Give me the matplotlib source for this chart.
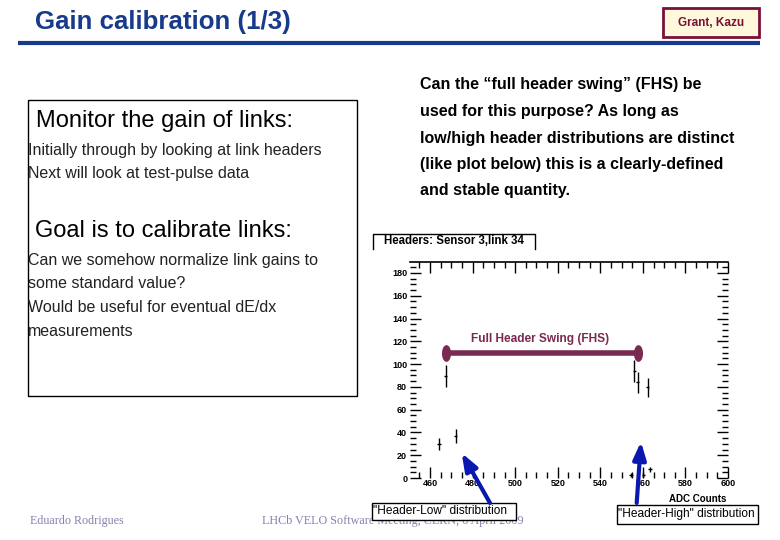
import numpy as np
import matplotlib
matplotlib.use('Agg')
import matplotlib.pyplot as plt
import matplotlib.patches as mpatches
from matplotlib.path import Path
from matplotlib.transforms import Affine2D

# histogram points (bin centre, entries, error)
adc = [464.2, 467.4, 472.1, 554.4, 556.0, 557.6, 560.2, 562.3, 563.4]
counts = [29.7, 89.7, 36.6, 2.6, 94.2, 83.9, 2.8, 79.5, 7.7]
errors = [5.1, 9.5, 6.1, 1.5, 9.6, 9.5, 2.8, 8.3, 2.2]

fhs_low = 467.4
fhs_high = 557.8
fhs_level = 110

low_tip = (474.9, 21.9)
high_tip = (559.1, 31.9)

left_lines_1 = ['Initially through by looking at link headers',
                'Next will look at test-pulse data']
left_lines_2 = ['Can we somehow normalize link gains to',
                'some standard value?',
                'Would be useful for eventual dE/dx',
                'measurements']
right_lines = ['Can the \u201cfull header swing\u201d (FHS) be',
               'used for this purpose? As long as',
               'low/high header distributions are distinct',
               '(like plot below) this is a clearly-defined',
               'and stable quantity.']

plt.rcParams['font.family'] = ['Liberation Sans', 'DejaVu Sans']
navy = '#173a8a'
maroon = '#7a2a50'
blue = '#0a18b0'
foot = '#8482ae'

fig = plt.figure(figsize=(7.8, 5.4), dpi=100)
bg = fig.add_axes([0, 0, 1, 1])
bg.set_xlim(0, 780)
bg.set_ylim(540, 0)
bg.axis('off')

# slide header
bg.text(35, 22, 'Gain calibration (1/3)', color=navy, fontsize=18.6, fontweight='bold', va='center')
bg.plot([18, 760], [43, 43], color=navy, lw=3, solid_capstyle='butt')
bg.add_patch(mpatches.Rectangle((663, 8), 96, 29, facecolor='#fff8dc', edgecolor='#7a1036', lw=2))
bg.text(711, 22.5, 'Grant, Kazu', color='#7a1036', fontsize=8.5, fontweight='bold', ha='center', va='center')

# left box
bg.add_patch(mpatches.Rectangle((28, 100), 329, 296, facecolor='none', edgecolor='black', lw=1))
bg.text(36, 121, 'Monitor the gain of links:', fontsize=17, va='center')
for i, s in enumerate(left_lines_1):
    bg.text(28, 150 + i * 23.5, s, fontsize=11.5, color='#222222', va='center')
bg.text(35, 231, 'Goal is to calibrate links:', fontsize=17, va='center')
for i, s in enumerate(left_lines_2):
    bg.text(28, 260 + i * 24, s, fontsize=11.5, color='#222222', va='center')

# right text
for i, s in enumerate(right_lines):
    bg.text(420, 85 + i * 26.5, s, fontsize=11.5, fontweight='bold', va='center')

# footer
bg.text(30, 521, 'Eduardo Rodrigues', family='Liberation Serif', fontsize=8.7, color=foot, va='center')
bg.text(262, 521, 'LHCb VELO Software Meeting, CERN, 6 April 2009', family='Liberation Serif',
        fontsize=8.7, color=foot, va='center')

# histogram title box
bg.plot([372.7, 372.7, 535, 535], [249, 234, 234, 249], color='black', lw=1)
bg.text(454, 241.5, 'Headers: Sensor 3,link 34', fontsize=8.3, fontweight='bold', ha='center', va='center')

# labels of the distributions
bg.add_patch(mpatches.Rectangle((371.7, 503), 144, 17, facecolor='white', edgecolor='black', lw=1, zorder=5))
bg.text(373, 511.5, '"Header-Low" distribution', fontsize=8.6, va='center', zorder=6)
bg.add_patch(mpatches.Rectangle((617, 505), 141, 19, facecolor='white', edgecolor='black', lw=1, zorder=5))
bg.text(618.5, 514.5, '"Header-High" distribution', fontsize=8.6, va='center', zorder=6)

ax = fig.add_axes([410 / 780, 62 / 540, 318 / 780, 216 / 540])
ax.set_facecolor('none')
ax.errorbar(adc, counts, yerr=errors, xerr=0.8, fmt='none', ecolor='black', elinewidth=1)
ax.set_xlim(450.6, 600)
ax.set_ylim(0, 189.6)

ax.plot([fhs_low, fhs_high], [fhs_level, fhs_level], color=maroon, lw=4, solid_capstyle='butt')
ell = Affine2D().scale(0.5, 1).transform_path(Path.unit_circle())
ax.plot([fhs_low, fhs_high], [fhs_level, fhs_level], ls='none', marker=ell, ms=11, color=maroon)
ax.text((fhs_low + fhs_high) / 2 - 0.8, 122, 'Full Header Swing (FHS)', color=maroon,
        fontsize=8.6, fontweight='bold', ha='center', va='center')

arrow = dict(arrowstyle='-|>,head_length=0.8,head_width=0.3', color=blue, lw=3, mutation_scale=13,
             shrinkA=0, shrinkB=0)
ax.annotate('', xy=low_tip, xycoords='data', xytext=(490, 37), textcoords='figure pixels',
            arrowprops=arrow, annotation_clip=False)
ax.annotate('', xy=high_tip, xycoords='data', xytext=(636.7, 37), textcoords='figure pixels',
            arrowprops=arrow, annotation_clip=False)

for side in ['left', 'right', 'bottom']:
    ax.spines[side].set_visible(False)
ax.spines['top'].set_linewidth(1.2)
ax.set_xticks(np.arange(460, 601, 20))
ax.set_yticks(np.arange(0, 181, 20))
ax.set_xticks(np.arange(455, 601, 5), minor=True)
ax.set_yticks(np.arange(5, 186, 5), minor=True)
ax.tick_params(which='both', direction='in', left=True, right=True, top=True, bottom=True,
               labelsize=6.5, width=1, pad=2)
ax.tick_params(which='major', length=8)
ax.tick_params(which='minor', length=4)
ax.tick_params(axis='x', which='both', pad=1)
for lab in ax.get_xticklabels() + ax.get_yticklabels():
    lab.set_fontweight('bold')
ax.set_xlabel('ADC Counts', fontsize=7, fontweight='bold', labelpad=1)
ax.xaxis.set_label_coords(0.905, -0.075)

fig.savefig('out.png', dpi=100)
plt.close(fig)
